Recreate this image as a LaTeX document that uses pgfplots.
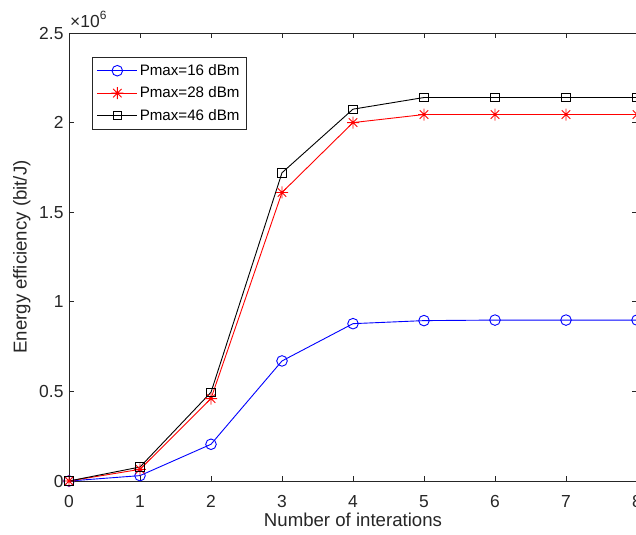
\documentclass[border=0pt]{standalone}
\usepackage{fontspec}
\setmainfont{Liberation Sans}
\usepackage{pgfplots}
\pgfplotsset{compat=1.18}
\definecolor{axgray}{rgb}{0.15,0.15,0.15}
\pgfdeclareplotmark{matstar}{%
 \pgfpathmoveto{\pgfqpoint{0pt}{\pgfplotmarksize}}\pgfpathlineto{\pgfqpoint{0pt}{-\pgfplotmarksize}}%
 \pgfpathmoveto{\pgfqpoint{\pgfplotmarksize}{0pt}}\pgfpathlineto{\pgfqpoint{-\pgfplotmarksize}{0pt}}%
 \pgfpathmoveto{\pgfqpoint{0.707\pgfplotmarksize}{0.707\pgfplotmarksize}}\pgfpathlineto{\pgfqpoint{-0.707\pgfplotmarksize}{-0.707\pgfplotmarksize}}%
 \pgfpathmoveto{\pgfqpoint{0.707\pgfplotmarksize}{-0.707\pgfplotmarksize}}\pgfpathlineto{\pgfqpoint{-0.707\pgfplotmarksize}{0.707\pgfplotmarksize}}%
 \pgfusepathqstroke}
\newcommand{\tickfont}{\fontsize{17.5}{20}\selectfont}
\begin{document}
\begin{tikzpicture}
\begin{axis}[
  scale only axis,
  width=568bp, height=448bp,
  xmin=0, xmax=8, ymin=0, ymax=2.5,
  xtick={0,1,...,8},
  xticklabels={0,1,2,3,4,5,6,7,8},
  ytick={0,0.5,1,1.5,2,2.5},
  yticklabels={0,0.5,1,1.5,2,2.5},
  scaled y ticks=false,
  tick align=inside,
  major tick length=5bp,
  axis line style={axgray, line width=0.9bp},
  major tick style={axgray, line width=0.9bp},
  xticklabel style={font=\tickfont, text=axgray, yshift=-11bp},
  yticklabel style={font=\tickfont, text=axgray, xshift=-2bp},
  /pgf/number format/assume math mode=true,
  xlabel={Number of interations},
  ylabel={Energy efficiency (bit/J)},
  label style={font=\fontsize{18.7}{22}\selectfont, text=axgray},
  xlabel style={yshift=2bp},
  ylabel style={yshift=2bp},
  clip=false,
  legend cell align=left,
  legend style={at={(rel axis cs:0.0406,0.946)}, anchor=north west,
    font=\fontsize{15.2}{17}\selectfont, draw=axgray, line width=0.6bp,
    row sep=6bp, inner xsep=4.5bp, inner ysep=5bp},
  legend image code/.code={\draw[mark repeat=2,mark phase=2] plot coordinates {(0bp,0bp) (20bp,0bp) (40bp,0bp)};},
]
\addplot[blue, line width=0.9bp, mark=o, mark size=5.3bp, mark options={solid}]
 coordinates {(0,0) (1,0.03) (2,0.205) (3,0.67) (4,0.878) (5,0.895) (6,0.898) (7,0.898) (8,0.898)};
\addlegendentry{Pmax=16 dBm}
\addplot[red, line width=0.9bp, mark=matstar, mark size=6bp]
 coordinates {(0,0) (1,0.065) (2,0.46) (3,1.61) (4,2.0) (5,2.045) (6,2.045) (7,2.045) (8,2.045)};
\addlegendentry{Pmax=28 dBm}
\addplot[black, line width=0.9bp, mark=square, mark size=4.2bp]
 coordinates {(0,0) (1,0.078) (2,0.495) (3,1.72) (4,2.075) (5,2.14) (6,2.14) (7,2.14) (8,2.14)};
\addlegendentry{Pmax=46 dBm}
\node[anchor=south west, inner sep=0pt, text=axgray, font=\tickfont] at ([xshift=1bp,yshift=5bp]rel axis cs:0,1) {×10\raisebox{0.45em}{\fontsize{12}{14}\selectfont 6}};
\end{axis}
\pgfresetboundingbox
\path[use as bounding box] ([xshift=-69bp,yshift=-54bp]current axis.south west) rectangle ([xshift=-1bp,yshift=33bp]current axis.north east);
\end{tikzpicture}
\end{document}
